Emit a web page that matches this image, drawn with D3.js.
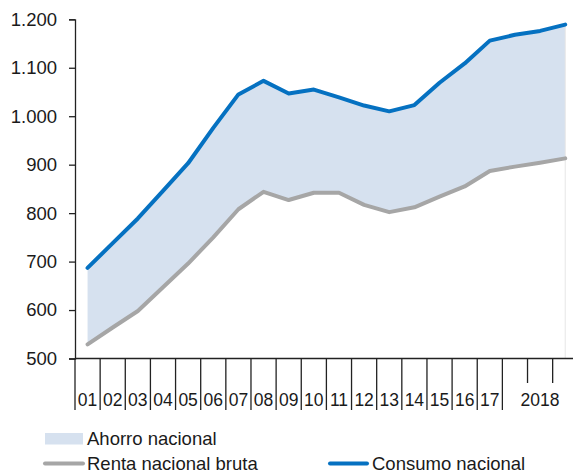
<!DOCTYPE html>
<html>
<head>
<meta charset="utf-8">
<script src="https://cdn.jsdelivr.net/npm/d3@7"></script>
<style>
    body { margin: 0; background: #fff; }
    svg text { font-family: "Liberation Sans", Arial, sans-serif; fill: #1a1a1a; }
</style>
</head>
<body>
<div id="chart"></div>
<script>
// ── Data ─────────────────────────────────────────────────────────
const periods = ["2001", "2002", "2003", "2004", "2005", "2006", "2007", "2008", "2009",
    "2010", "2011", "2012", "2013", "2014", "2015", "2016", "2017", "2018-1", "2018-2", "2018-3"];
const tickLabels = ["01", "02", "03", "04", "05", "06", "07", "08", "09",
    "10", "11", "12", "13", "14", "15", "16", "17", "", "2018", ""];
const rentaNacional = [529, 564, 598, 647, 696, 750, 808, 844, 827, 842,
    842, 817, 802, 812, 834, 855, 887, 896, 904, 913];
const consumoNacional = [687, 738, 789, 846, 903, 976, 1045, 1073, 1047, 1055,
    1039, 1022, 1010, 1023, 1069, 1109, 1156, 1168, 1176, 1189];
const yTicks = [500, 600, 700, 800, 900, 1000, 1100, 1200];
const annualCount = 17;

// ── Layout ───────────────────────────────────────────────────────
const width = 573;
const height = 472;
const blue = "#0571C1";
const gray = "#A6A6A6";
const areaFill = "#D6E1EF";

const svg = d3.select("#chart")
    .append("svg")
    .attr("width", width)
    .attr("height", height);

const xScale = d3.scaleBand()
    .domain(periods)
    .range([75, 577.8])
    .padding(0);

const yScale = d3.scaleLinear()
    .domain([500, 1200])
    .range([358.5, 19.3]);

const cx = (i) => xScale(periods[i]) + xScale.bandwidth() / 2;

// Ahorro area between the two lines
const area = d3.area()
    .x((d, i) => cx(i))
    .y0((d, i) => yScale(rentaNacional[i]))
    .y1((d, i) => yScale(consumoNacional[i]));

svg.append("path")
    .datum(periods)
    .attr("d", area)
    .attr("fill", areaFill);

// faint edge at the end of the area
const last = periods.length - 1;
svg.append("line")
    .attr("x1", cx(last)).attr("x2", cx(last))
    .attr("y1", yScale(consumoNacional[last]))
    .attr("y2", yScale(500))
    .attr("stroke", "#E6E6E6")
    .attr("stroke-width", 1);

// Lines
const line = (values) => d3.line()
    .x((d, i) => cx(i))
    .y(d => yScale(d))(values);

svg.append("path")
    .attr("d", line(rentaNacional))
    .attr("fill", "none")
    .attr("stroke", gray)
    .attr("stroke-width", 4)
    .attr("stroke-linecap", "round")
    .attr("stroke-linejoin", "round");

svg.append("path")
    .attr("d", line(consumoNacional))
    .attr("fill", "none")
    .attr("stroke", blue)
    .attr("stroke-width", 4)
    .attr("stroke-linecap", "round")
    .attr("stroke-linejoin", "round");

// Left axis
const leftAxis = d3.axisLeft(yScale)
    .tickValues(yTicks)
    .tickSize(6)
    .tickPadding(12)
    .tickFormat(d => d3.format(",")(d).replace(",", "."));

const yAxis = svg.append("g")
    .attr("transform", "translate(75,0)")
    .call(leftAxis);
yAxis.select(".domain").attr("stroke", "#222").attr("stroke-width", 1.3);
yAxis.selectAll(".tick line").attr("stroke", "#222").attr("stroke-width", 1.3);
yAxis.selectAll(".tick text")
    .attr("font-size", 18.5)
    .attr("fill", "#1a1a1a");

// Bottom axis: band boundaries, long for annual, short for quarters
const axisY = yScale(500);
const xAxis = svg.append("g");
xAxis.append("line")
    .attr("x1", 75).attr("x2", width)
    .attr("y1", axisY).attr("y2", axisY)
    .attr("stroke", "#222")
    .attr("stroke-width", 1.3);

const boundaries = d3.range(periods.length);
xAxis.selectAll(".sep")
    .data(boundaries)
    .join("line")
    .attr("class", "sep")
    .attr("x1", i => xScale(periods[i]))
    .attr("x2", i => xScale(periods[i]))
    .attr("y1", axisY)
    .attr("y2", i => i <= annualCount ? 410 : 383)
    .attr("stroke", "#222")
    .attr("stroke-width", 1.3);

xAxis.selectAll(".xlabel")
    .data(tickLabels)
    .join("text")
    .attr("class", "xlabel")
    .attr("x", (d, i) => cx(i))
    .attr("y", 405.5)
    .attr("text-anchor", "middle")
    .attr("font-size", 17.5)
    .text(d => d);

// Legend
const legend = svg.append("g");
legend.append("rect")
    .attr("x", 45).attr("y", 433)
    .attr("width", 38).attr("height", 11.5)
    .attr("fill", areaFill);
legend.append("text")
    .attr("x", 87).attr("y", 445)
    .attr("font-size", 18.5)
    .text("Ahorro nacional");

legend.append("line")
    .attr("x1", 45).attr("x2", 83)
    .attr("y1", 463.5).attr("y2", 463.5)
    .attr("stroke", gray).attr("stroke-width", 4)
    .attr("stroke-linecap", "round");
legend.append("text")
    .attr("x", 87).attr("y", 469.5)
    .attr("font-size", 18.5)
    .text("Renta nacional bruta");

legend.append("line")
    .attr("x1", 330).attr("x2", 367)
    .attr("y1", 463.5).attr("y2", 463.5)
    .attr("stroke", blue).attr("stroke-width", 4)
    .attr("stroke-linecap", "round");
legend.append("text")
    .attr("x", 372).attr("y", 469.5)
    .attr("font-size", 18.5)
    .text("Consumo nacional");
</script>
</body>
</html>
